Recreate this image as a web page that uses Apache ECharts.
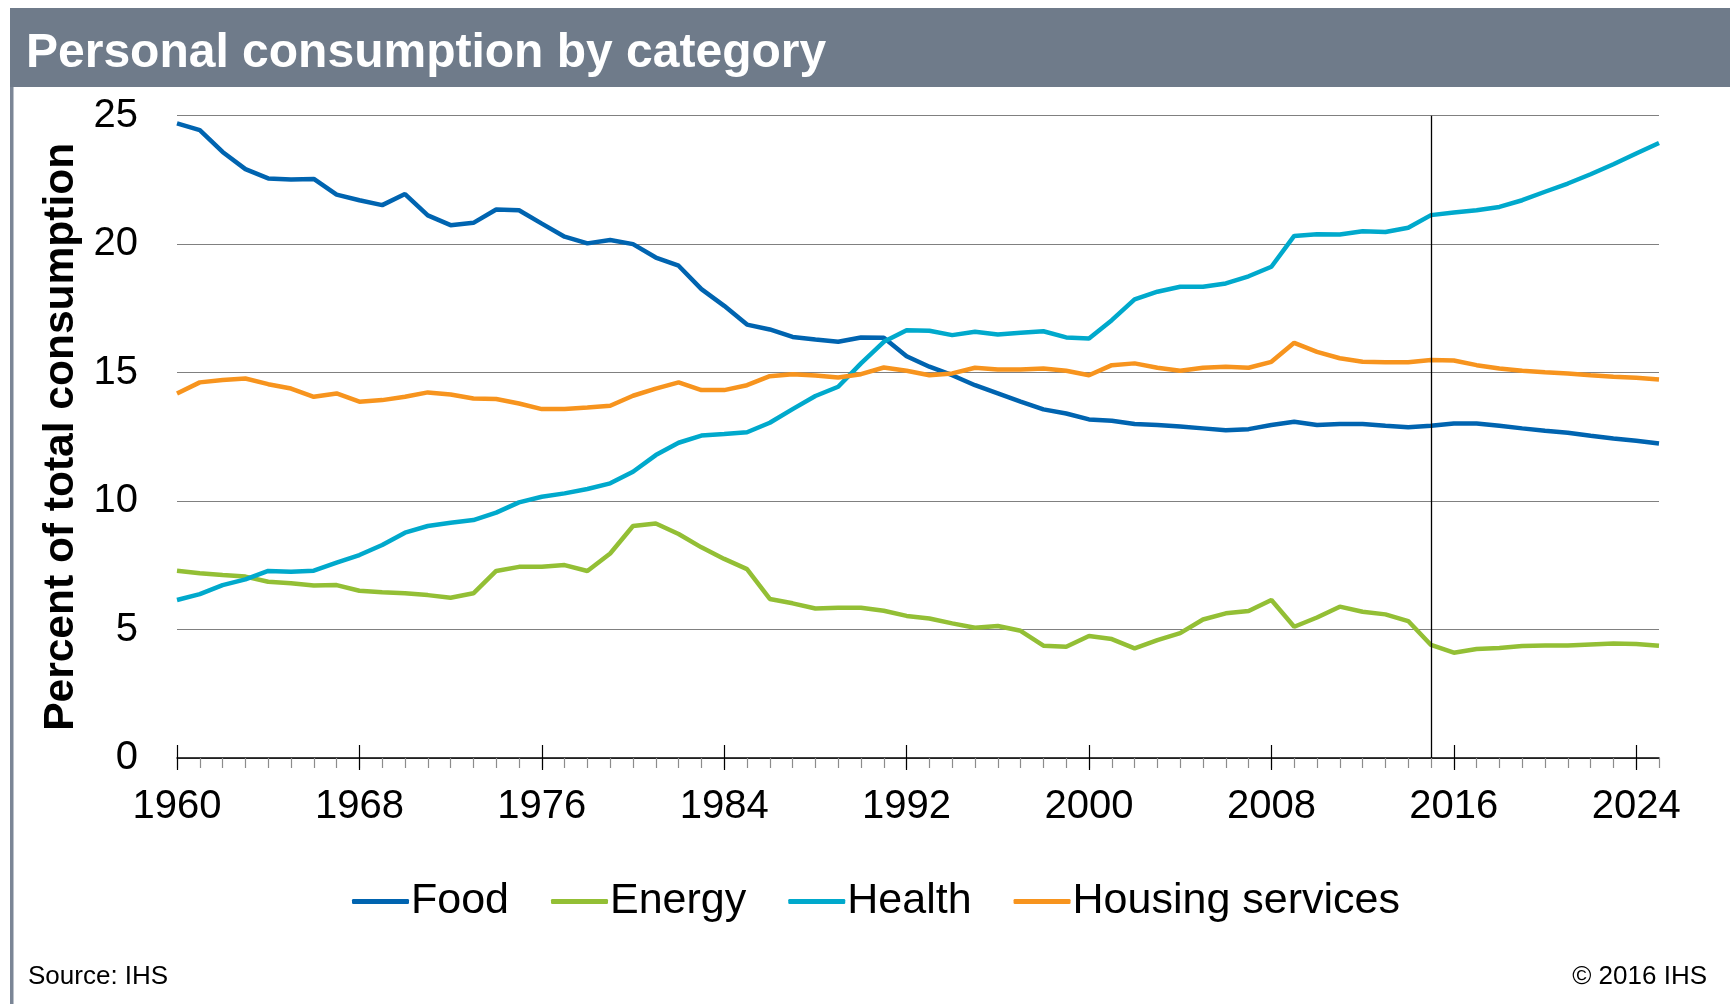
<!DOCTYPE html>
<html>
<head>
    <meta charset="utf-8">
    <title>Personal consumption by category</title>
    <script src="https://cdn.jsdelivr.net/npm/echarts@6/dist/echarts.min.js"></script>
    <style>
        body { margin: 0; background: #fff; }
        #box { width: 1730px; height: 1004px; }
    </style>
</head>
<body>
    <div id="box"></div>
    <script>
        // years on the x axis, one point per year
        var years = [];
        for (var y = 1960; y <= 2025; y++) years.push(String(y));
        var labelYears = ['1960', '1968', '1976', '1984', '1992', '2000', '2008', '2016', '2024'];
        var yTicks = [0, 5, 10, 15, 20, 25];
        var forecastStart = '2015';

        var food = [24.7, 24.44, 23.59, 22.92, 22.56, 22.52, 22.54, 21.93, 21.71, 21.52,
            21.95, 21.12, 20.74, 20.83, 21.35, 21.32, 20.80, 20.29, 20.03, 20.16,
            20.0, 19.48, 19.16, 18.25, 17.6, 16.87, 16.68, 16.39, 16.29, 16.2,
            16.37, 16.36, 15.64, 15.23, 14.9, 14.51, 14.19, 13.87, 13.57, 13.41,
            13.18, 13.13, 13.0, 12.96, 12.9, 12.83, 12.76, 12.8, 12.96, 13.09,
            12.96, 13.0, 13.0, 12.93, 12.87, 12.93, 13.02, 13.02, 12.93, 12.83,
            12.74, 12.66, 12.54, 12.44, 12.35, 12.24];
        var energy = [7.29, 7.19, 7.12, 7.06, 6.86, 6.8, 6.71, 6.73, 6.51, 6.45,
            6.41, 6.34, 6.24, 6.41, 7.28, 7.44, 7.44, 7.51, 7.28, 7.96,
            9.03, 9.13, 8.72, 8.2, 7.75, 7.35, 6.19, 6.02, 5.82, 5.85,
            5.85, 5.73, 5.53, 5.43, 5.24, 5.07, 5.14, 4.95, 4.37, 4.33,
            4.75, 4.63, 4.27, 4.59, 4.86, 5.39, 5.63, 5.72, 6.15, 5.11,
            5.47, 5.89, 5.69, 5.59, 5.33, 4.4, 4.1, 4.24, 4.28, 4.36,
            4.38, 4.38, 4.42, 4.46, 4.44, 4.37];
        var health = [6.15, 6.38, 6.73, 6.95, 7.28, 7.25, 7.29, 7.6, 7.9, 8.29,
            8.77, 9.03, 9.16, 9.26, 9.55, 9.95, 10.17, 10.3, 10.47, 10.69,
            11.14, 11.79, 12.27, 12.55, 12.61, 12.68, 13.05, 13.58, 14.09, 14.45,
            15.36, 16.2, 16.65, 16.63, 16.46, 16.59, 16.48, 16.55, 16.61, 16.37,
            16.33, 17.04, 17.85, 18.15, 18.34, 18.34, 18.47, 18.75, 19.12, 20.32,
            20.39, 20.38, 20.5, 20.47, 20.64, 21.13, 21.23, 21.32, 21.45, 21.71,
            22.04, 22.36, 22.72, 23.11, 23.53, 23.94];
        var housing = [14.19, 14.62, 14.71, 14.77, 14.55, 14.38, 14.06, 14.19, 13.87, 13.93,
            14.06, 14.23, 14.15, 13.99, 13.97, 13.8, 13.58, 13.58, 13.64, 13.71,
            14.1, 14.38, 14.62, 14.32, 14.32, 14.51, 14.86, 14.94, 14.89, 14.81,
            14.94, 15.2, 15.07, 14.9, 14.97, 15.19, 15.12, 15.12, 15.16, 15.07,
            14.9, 15.29, 15.36, 15.19, 15.07, 15.19, 15.23, 15.19, 15.42, 16.16,
            15.81, 15.56, 15.42, 15.4, 15.4, 15.49, 15.47, 15.29, 15.16, 15.07,
            15.01, 14.97, 14.9, 14.84, 14.8, 14.73];

        var FONT = '"Liberation Sans", Arial, sans-serif';
        var isMajor = function (i) { return labelYears.indexOf(years[i]) >= 0; };

        function tickAxis(inside, len) {
            return {
                type: 'category', data: years, boundaryGap: false, position: 'bottom',
                axisLine: { show: false },
                axisTick: { show: true, inside: inside, length: len, interval: function (i) { return isMajor(i); },
                    lineStyle: { color: '#000', width: 1.2 } },
                axisLabel: { show: false },
                splitLine: { show: false }
            };
        }

        function line(name, data, color) {
            return {
                name: name, type: 'line', data: data,
                symbol: 'none', smooth: false,
                lineStyle: { color: color, width: 4.5 },
                itemStyle: { color: color }
            };
        }

        var series = [
            line('Food', food, '#0064b0'),
            line('Energy', energy, '#93bf35'),
            line('Health', health, '#00a9cc'),
            line('Housing services', housing, '#f7941e')
        ];
        series[0].markLine = {
            silent: true, symbol: ['none', 'none'],
            label: { show: false },
            lineStyle: { color: '#000', width: 1.3, type: 'solid' },
            data: [{ xAxis: forecastStart }]
        };

        var myChart = echarts.init(document.getElementById('box'));
        var option = {
            animation: false,
            backgroundColor: '#fff',
            title: {
                text: 'Personal consumption by category',
                left: 21, top: 25,
                textStyle: { color: '#fff', fontSize: 48, fontWeight: 'bold', fontFamily: FONT }
            },
            graphic: [
                { type: 'rect', shape: { x: 10, y: 8, width: 1720, height: 79 }, style: { fill: '#6f7b8a' } },
                { type: 'rect', shape: { x: 10, y: 87, width: 3.5, height: 917 }, style: { fill: '#7b8696' } },
                { type: 'text', left: 28, top: 964, style: { text: 'Source: IHS', fill: '#000', font: '26px ' + FONT } },
                { type: 'text', right: 23, top: 964, style: { text: '\u00a9 2016 IHS', fill: '#000', font: '26px ' + FONT } }
            ],
            legend: {
                left: 347, top: 875,
                icon: 'roundRect',
                itemWidth: 57, itemHeight: 5, itemGap: 42,
                textStyle: { fontSize: 43, color: '#000', fontFamily: FONT, padding: [0, 0, 0, -3] },
                data: ['Food', 'Energy', 'Health', 'Housing services']
            },
            grid: { left: 177, right: 71, top: 115.7, bottom: 246, containLabel: false },
            xAxis: [{
                type: 'category', data: years, boundaryGap: false,
                axisLine: { lineStyle: { color: '#000', width: 1.5 } },
                axisTick: { show: true, length: 10, interval: 0, lineStyle: { color: '#8c8c8c', width: 1.2 } },
                axisLabel: { interval: function (i) { return isMajor(i); }, margin: 29,
                    fontSize: 40, color: '#000', fontFamily: FONT },
                splitLine: { show: false }
            }, tickAxis(false, 12), tickAxis(true, 13)],
            yAxis: {
                type: 'value', min: yTicks[0], max: yTicks[yTicks.length - 1], interval: 5,
                name: 'Percent of total consumption',
                nameLocation: 'middle', nameRotate: 90, nameGap: 94,
                nameTextStyle: { fontSize: 42.5, fontWeight: 'bold', color: '#000', fontFamily: FONT },
                axisLine: { show: false },
                axisTick: { show: false },
                axisLabel: { margin: 39, fontSize: 40, color: '#000', fontFamily: FONT },
                splitLine: { lineStyle: { color: '#808080', width: 1.2 } }
            },
            series: series
        };
        myChart.setOption(option);
    </script>
</body>
</html>
